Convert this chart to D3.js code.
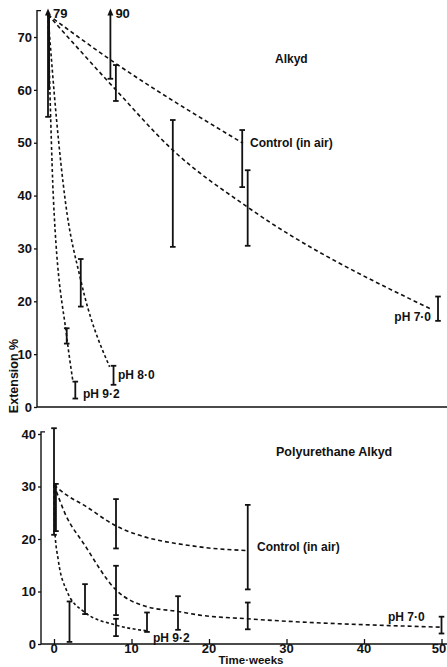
<!DOCTYPE html>
<html>
<head>
<meta charset="utf-8">
<script src="https://cdn.jsdelivr.net/npm/d3@7/dist/d3.min.js"></script>
<style>
  html, body { margin: 0; padding: 0; background: #fff; }
  svg { display: block; }
  text { font-family: "Liberation Sans", Arial, Helvetica, sans-serif; font-weight: bold; fill: #111; }
</style>
</head>
<body>
<svg id="chart" width="447" height="667"></svg>
<script>
// ---------- Alkyd (upper panel): extension % against time in weeks ----------
const alkydControlT = [0, 8, 25];
const alkydControlV = [74.2, 65.7, 49.9];
const alkydPh70T = [0, 8.7, 16, 25.6, 49];
const alkydPh70V = [74.2, 60, 48.6, 37.8, 18.6];
const alkydPh80T = [0, 1.1, 2.2, 4.2, 7.9];
const alkydPh80V = [74.2, 54.3, 39.2, 24, 7.6];
const alkydPh92T = [0, 0.35, 0.7, 2.4, 3.2];
const alkydPh92V = [74.2, 54.3, 39.2, 13.3, 4.8];

// error bars: time, low, high (high beyond the axis is drawn as an arrow with its value)
const alkydBarT    = [0,    8,    8.7,  16,   24.9, 25.6, 50,   4.2, 8.4, 2.4, 3.5];
const alkydBarLow  = [54.9, 62.1, 57.9, 30.3, 41.6, 30.5, 16.3, 19,  4.2, 12,  1.6];
const alkydBarHigh = [79,   90,   64.7, 54.3, 52.4, 44.8, 20.9, 28,  7.8, 14.9, 4.8];

const alkydYTicks = [0, 10, 20, 30, 40, 50, 60, 70];

// ---------- Polyurethane alkyd (lower panel) ----------
const puControlT = [0, 1.6, 3.8, 8, 18.8, 25];
const puControlV = [30.3, 28.4, 26.5, 22.5, 18.5, 17.8];
const puPh70T = [0, 1.6, 3.8, 8, 12, 16, 18.8, 25, 50];
const puPh70V = [30.3, 24.3, 19.2, 10.3, 7.1, 6.2, 5.5, 4.8, 3.2];
const puPh92T = [0, 0.1, 0.55, 1.6, 3.8, 8, 12];
const puPh92V = [30.3, 21.7, 16, 10.3, 6.2, 3.6, 2.5];

const puBarT    = [0,    0.25, 8,    25,   8,   16,  25,  50,  2,   4,    8,   12];
const puBarLow  = [20.8, 21.5, 18.2, 10.4, 5.5, 2.7, 2.8, 2.0, 0.4, 5.7,  1.5, 2.3];
const puBarHigh = [41.1, 30.5, 27.6, 26.5, 14.9, 9.1, 7.9, 5.2, 8.1, 11.4, 4.8, 6.0];

const puYTicks = [0, 10, 20, 30, 40];
const weekTicks = [0, 10, 20, 30, 40, 50];

const svg = d3.select("#chart");

// scales
const xTop = d3.scaleLinear().domain([0, 50]).range([48, 438]);
const yTop = d3.scaleLinear().domain([0, 75]).range([407, 10.6]);
const xBot = d3.scaleLinear().domain([0, 50]).range([54, 441.5]);
const yBot = d3.scaleLinear().domain([0, 40]).range([644, 434]);

function curve(g, x, y, ts, vs, dash) {
  const pts = ts.map((t, i) => [t, vs[i]]);
  g.append("path")
    .attr("d", d3.line().x(d => x(d[0])).y(d => y(d[1])).curve(d3.curveMonotoneX)(pts))
    .attr("fill", "none")
    .attr("stroke", "#111")
    .attr("stroke-width", 1.6)
    .attr("stroke-dasharray", dash);
}

function bars(g, x, y, ts, lows, highs, maxV) {
  ts.forEach((t, i) => {
    const cx = x(t);
    const lo = lows[i], hi = highs[i];
    const arrow = hi > maxV;
    const topY = y(Math.min(hi, maxV));
    g.append("line").attr("x1", cx).attr("x2", cx)
      .attr("y1", y(lo)).attr("y2", arrow ? topY + 3 : topY)
      .attr("stroke", "#111").attr("stroke-width", 1.8);
    g.append("line").attr("x1", cx - 2.8).attr("x2", cx + 2.8)
      .attr("y1", y(lo)).attr("y2", y(lo))
      .attr("stroke", "#111").attr("stroke-width", 1.8);
    if (arrow) {
      g.append("path")
        .attr("d", `M${cx},${topY - 2} L${cx - 3},${topY + 5} L${cx + 3},${topY + 5} Z`)
        .attr("fill", "#111");
      g.append("text").attr("x", cx + 5).attr("y", topY + 7)
        .attr("font-size", 13).text(d3.format("d")(hi));
    } else {
      g.append("line").attr("x1", cx - 2.8).attr("x2", cx + 2.8)
        .attr("y1", topY).attr("y2", topY)
        .attr("stroke", "#111").attr("stroke-width", 1.8);
    }
  });
}

function label(g, x, y, txt, size, anchor) {
  g.append("text").attr("x", x).attr("y", y)
    .attr("font-size", size).attr("text-anchor", anchor || "start").text(txt);
}

// ---------- upper panel ----------
const upper = svg.append("g");
const yAxisTop = d3.axisLeft(yTop).tickValues(alkydYTicks).tickSize(3).tickPadding(2).tickFormat(d3.format("d"));
upper.append("g").attr("transform", "translate(37,0)").call(yAxisTop)
  .call(g => g.select(".domain").remove())
  .call(g => g.selectAll("text").attr("font-size", 13).attr("font-family", null).attr("fill", "#111"))
  .call(g => g.selectAll("line").attr("stroke", "#111").attr("stroke-width", 1.3));
upper.append("path")
  .attr("d", `M41,${yTop(75)} H37 V${yTop(0)} H447`)
  .attr("fill", "none").attr("stroke", "#111").attr("stroke-width", 1.4);

curve(upper, xTop, yTop, alkydControlT, alkydControlV, "4,3");
curve(upper, xTop, yTop, alkydPh70T, alkydPh70V, "4,3");
curve(upper, xTop, yTop, alkydPh80T, alkydPh80V, "3,2.5");
curve(upper, xTop, yTop, alkydPh92T, alkydPh92V, "3,2.5");
bars(upper, xTop, yTop, alkydBarT, alkydBarLow, alkydBarHigh, 75);
// overlapping bars at the start make the first one look heavier
upper.append("line").attr("x1", xTop(0) + 1).attr("x2", xTop(0) + 1)
  .attr("y1", yTop(60)).attr("y2", yTop(74))
  .attr("stroke", "#111").attr("stroke-width", 2);

label(upper, 275, 63, "Alkyd", 12);
label(upper, 250, 147, "Control (in air)", 12);
label(upper, 431, 321, "pH 7·0", 12, "end");
label(upper, 118, 379, "pH 8·0", 12);
label(upper, 83, 398, "pH 9·2", 12);

// ---------- lower panel ----------
const lower = svg.append("g");
const yAxisBot = d3.axisLeft(yBot).tickValues(puYTicks).tickSize(3).tickPadding(2).tickFormat(d3.format("d"));
lower.append("g").attr("transform", "translate(41,0)").call(yAxisBot)
  .call(g => g.select(".domain").remove())
  .call(g => g.selectAll("text").attr("font-size", 13).attr("font-family", null).attr("fill", "#111"))
  .call(g => g.selectAll("line").attr("stroke", "#111").attr("stroke-width", 1.3));
const xAxisBot = d3.axisTop(xBot).tickValues(weekTicks).tickSize(5).tickFormat(d3.format("d"));
lower.append("g").attr("transform", `translate(0,${yBot(0)})`).call(xAxisBot)
  .call(g => g.select(".domain").remove())
  .call(g => g.selectAll("text").remove())
  .call(g => g.selectAll("line").attr("stroke", "#111").attr("stroke-width", 1.3));
lower.selectAll(".wk").data(weekTicks).join("text").attr("class", "wk")
  .attr("x", d => Math.min(xBot(d), 439)).attr("y", 653).attr("text-anchor", "middle")
  .attr("font-size", 13).text(d3.format("d"));
lower.append("path")
  .attr("d", `M45,${yBot(40.4)} H41 V${yBot(0)} H447`)
  .attr("fill", "none").attr("stroke", "#111").attr("stroke-width", 1.4);

curve(lower, xBot, yBot, puControlT, puControlV, "4,3");
curve(lower, xBot, yBot, puPh70T, puPh70V, "4,3");
curve(lower, xBot, yBot, puPh92T, puPh92V, "3,2.5");
bars(lower, xBot, yBot, puBarT, puBarLow, puBarHigh, 45);
lower.append("line").attr("x1", xBot(0) + 1).attr("x2", xBot(0) + 1)
  .attr("y1", yBot(21.5)).attr("y2", yBot(30))
  .attr("stroke", "#111").attr("stroke-width", 1.6);

label(lower, 276, 456, "Polyurethane Alkyd", 12.5);
label(lower, 257, 551, "Control (in air)", 12);
label(lower, 388, 621, "pH 7·0", 12);
label(lower, 153, 642, "pH 9·2", 12);
label(lower, 251, 664, "Time·weeks", 11.5, "middle");

// shared y-axis title
svg.append("text").attr("transform", "translate(18,376) rotate(-90)")
  .attr("text-anchor", "middle").attr("font-size", 12.5).text("Extension %");
</script>
</body>
</html>
